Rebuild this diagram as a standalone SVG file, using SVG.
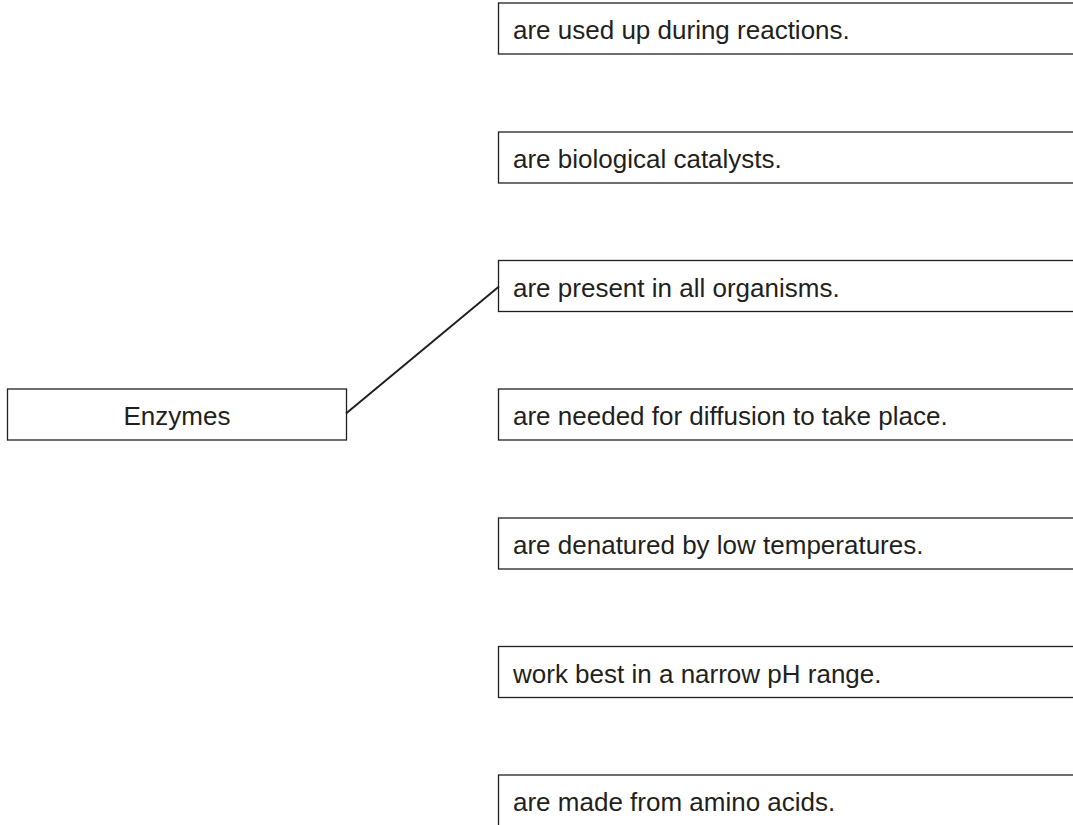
<svg xmlns="http://www.w3.org/2000/svg" width="1073" height="825" viewBox="0 0 1073 825">
<style>
.box{fill:#fff;stroke:#231f20;stroke-width:1.3}
.t{font-family:"Liberation Sans",Arial,Helvetica,sans-serif;font-size:26px;fill:#231f20}
.c{stroke:#231f20;stroke-width:2;fill:none}
</style>
<rect width="1073" height="825" fill="#fff"/>
<g id="enzymes"><rect class="box" x="7.5" y="389" width="339" height="51"/><text class="t" x="177" y="425" text-anchor="middle">Enzymes</text></g>
<g id="s1"><rect class="box" x="498.5" y="3" width="600" height="51"/><text class="t" x="513" y="39">are used up during reactions.</text></g>
<g id="s2"><rect class="box" x="498.5" y="132" width="600" height="51"/><text class="t" x="513" y="168">are biological catalysts.</text></g>
<g id="s3"><rect class="box" x="498.5" y="260.5" width="600" height="51"/><text class="t" x="513" y="296.5">are present in all organisms.</text></g>
<g id="s4"><rect class="box" x="498.5" y="389" width="600" height="51"/><text class="t" x="513" y="425">are needed for diffusion to take place.</text></g>
<g id="s5"><rect class="box" x="498.5" y="518" width="600" height="51"/><text class="t" x="513" y="554">are denatured by low temperatures.</text></g>
<g id="s6"><rect class="box" x="498.5" y="646.5" width="600" height="51"/><text class="t" x="513" y="682.5">work best in a narrow pH range.</text></g>
<g id="s7"><rect class="box" x="498.5" y="775" width="600" height="60"/><text class="t" x="513" y="811">are made from amino acids.</text></g>
<g id="connectors"><line class="c" x1="346" y1="413.5" x2="499" y2="286.5"/></g>
</svg>
